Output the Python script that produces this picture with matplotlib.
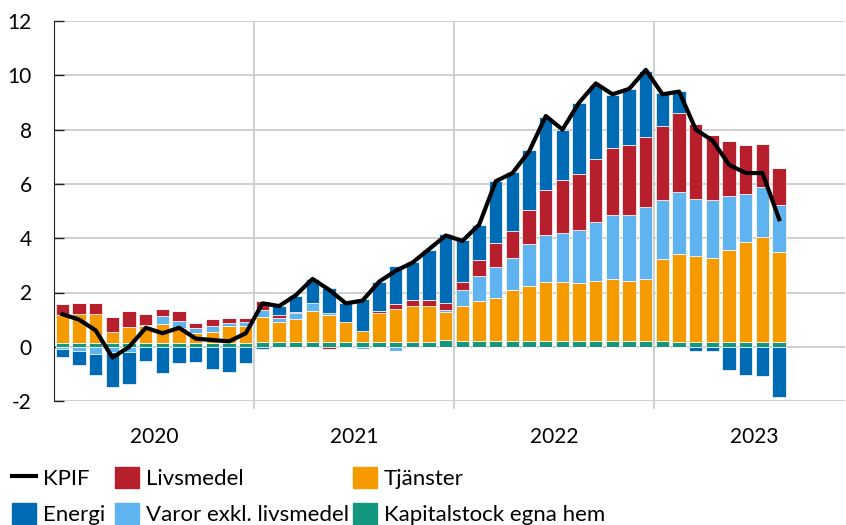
import numpy as np
from matplotlib import pyplot as plt
from matplotlib.patches import Patch
from matplotlib.lines import Line2D

# Monthly data, Jan 2020 - Aug 2023 (percentage points / annual % change)
years = ["2020", "2021", "2022", "2023"]

kpif = [1.2, 1.0, 0.6, -0.4, 0.0, 0.7, 0.5, 0.7, 0.3, 0.25, 0.2, 0.5,
        1.6, 1.5, 1.9, 2.5, 2.1, 1.6, 1.7, 2.4, 2.8, 3.1, 3.6, 4.1,
        3.9, 4.5, 6.1, 6.4, 7.2, 8.5, 8.0, 9.0, 9.7, 9.3, 9.5, 10.2,
        9.3, 9.4, 8.0, 7.6, 6.7, 6.4, 6.4, 4.7]

kapitalstock = [0.15] * 12 + [0.18] * 11 + [0.25] + [0.22] * 12 + [0.21] + [0.18] * 3 + [0.17] * 4

tjanster = [1.02, 1.05, 1.05, 0.40, 0.59, 0.62, 0.69, 0.56, 0.34, 0.40, 0.62, 0.60,
            0.90, 0.74, 0.86, 1.13, 0.99, 0.72, 0.40, 1.05, 1.21, 1.31, 1.33, 1.04,
            1.28, 1.46, 1.56, 1.89, 2.02, 2.16, 2.16, 2.14, 2.22, 2.26, 2.22, 2.26,
            3.01, 3.22, 3.15, 3.09, 3.38, 3.69, 3.87, 3.33]

varor = [-0.08, -0.15, -0.25, -0.20, -0.20, 0.05, 0.30, 0.25, 0.19, 0.22, 0.09, 0.15,
         0.27, 0.15, 0.19, 0.31, 0.08, -0.05, -0.08, 0.0, -0.15, 0.0, 0.0, 0.06,
         0.59, 0.92, 1.17, 1.15, 1.54, 1.72, 1.80, 1.96, 2.14, 2.36, 2.40, 2.67,
         2.17, 2.29, 2.11, 2.12, 2.00, 1.77, 1.86, 1.72]

livsmedel = [0.39, 0.41, 0.41, 0.53, 0.59, 0.40, 0.26, 0.35, 0.18, 0.25, 0.20, 0.17,
             0.35, 0.10, 0.06, 0.0, -0.07, 0.0, 0.0, 0.10, 0.17, 0.22, 0.23, 0.27,
             0.29, 0.58, 0.87, 1.00, 1.27, 1.66, 1.96, 2.04, 2.32, 2.49, 2.59, 2.59,
             2.74, 2.93, 2.78, 2.40, 2.03, 1.80, 1.57, 1.38]

energi = [-0.31, -0.51, -0.79, -1.27, -1.16, -0.54, -0.95, -0.60, -0.55, -0.81, -0.91, -0.59,
          -0.08, 0.33, 0.59, 0.87, 0.90, 0.70, 1.19, 1.07, 1.41, 1.41, 1.82, 2.53,
          1.55, 1.30, 2.30, 2.18, 2.20, 2.70, 1.83, 2.62, 2.76, 1.96, 2.08, 2.41,
          1.21, 0.80, -0.16, -0.14, -0.86, -1.04, -1.08, -1.86]

colors = {
    "Kapitalstock egna hem": "#14977f",
    "Tjänster": "#f59b00",
    "Varor exkl. livsmedel": "#5fb4ef",
    "Livsmedel": "#b81f2d",
    "Energi": "#006bb5",
}
series = [
    ("Kapitalstock egna hem", kapitalstock),
    ("Tjänster", tjanster),
    ("Varor exkl. livsmedel", varor),
    ("Livsmedel", livsmedel),
    ("Energi", energi),
]

plt.rcParams["font.family"] = ["Lato", "DejaVu Sans"]

fig = plt.figure(figsize=(8.46, 5.25), dpi=100)
ax = fig.add_axes([0.064, 0.236, 0.935, 0.724])

x = np.arange(len(kpif))
pos_base = np.zeros(len(x))
neg_base = np.zeros(len(x))
for name, vals in series:
    v = np.array(vals)
    pos = np.where(v > 0, v, 0)
    neg = np.where(v < 0, v, 0)
    ax.bar(x, pos, 0.8, bottom=pos_base, color=colors[name], edgecolor="white", linewidth=0.5, zorder=2)
    ax.bar(x, neg, 0.8, bottom=neg_base, color=colors[name], edgecolor="white", linewidth=0.5, zorder=2)
    pos_base += pos
    neg_base += neg

ax.plot(x, kpif, color="black", linewidth=3, zorder=3)

ax.set_xlim(-0.5, 46.96)
ax.set_ylim(-2, 12)
ax.set_yticks(range(-2, 13, 2))
ax.set_yticklabels([str(t) for t in range(-2, 13, 2)])
ax.yaxis.grid(True, color="#cccccc", linewidth=1.3)
ax.set_axisbelow(True)

ax.set_xticks([11.5, 23.5, 35.5])
ax.set_xticklabels([])
ax.set_xticks([5.5, 17.5, 29.5, 41.5], minor=True)
ax.set_xticklabels(years, minor=True)
ax.xaxis.grid(True, which="major", color="#cccccc", linewidth=1.3)
ax.tick_params(axis="x", which="major", length=6, color="#cccccc", width=1.3)
ax.tick_params(axis="x", which="minor", length=0, pad=19, labelsize=15)
ax.tick_params(axis="y", labelsize=15, direction="in", length=7, width=1, pad=16,
               color="#222222")

for side in ["top", "right", "bottom"]:
    ax.spines[side].set_visible(False)
ax.spines["left"].set_color("#222222")

# legend, three columns placed at fixed positions
columns = [
    (12, [Line2D([0], [0], color="black", linewidth=3), Patch(color=colors["Energi"])],
     ["KPIF", "Energi"]),
    (115, [Patch(color=colors["Livsmedel"]), Patch(color=colors["Varor exkl. livsmedel"])],
     ["Livsmedel", "Varor exkl. livsmedel"]),
    (353, [Patch(color=colors["Tjänster"]), Patch(color=colors["Kapitalstock egna hem"])],
     ["Tjänster", "Kapitalstock egna hem"]),
]
for left, hs, ls in columns:
    leg = fig.legend(hs, ls, loc="upper left", bbox_to_anchor=(left / 846, 1 - 467 / 525),
                     frameon=False, fontsize=16, handlelength=1.08, handleheight=1.08,
                     handletextpad=0.32, labelspacing=0.62, borderpad=0, borderaxespad=0)

plt.savefig("out.png", dpi=100)
